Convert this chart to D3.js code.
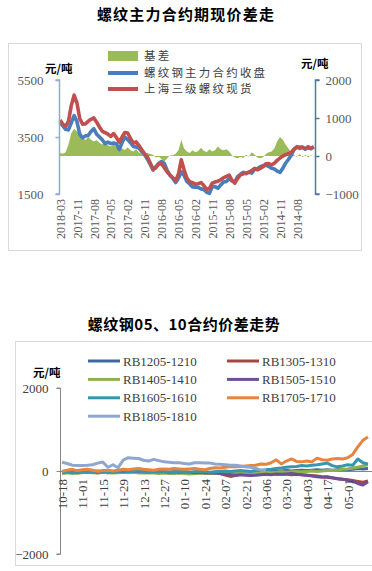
<!DOCTYPE html>
<html><head><meta charset="utf-8">
<script src="https://cdn.jsdelivr.net/npm/d3@7/dist/d3.min.js"></script>
<style>
body{margin:0;background:#fff;}
svg{display:block;}
</style></head>
<body>
<svg id="c" width="372" height="571"></svg>
<script>
// ---------- Chart 1 data ----------
const title1 = "螺纹主力合约期现价差走";
const dateLabels1 = ["2018-03","2017-11","2017-08","2017-05","2017-02","2016-11","2016-08","2016-05","2016-02","2015-11","2015-08","2015-05","2015-02","2014-11","2014-08"];
const legend1 = ["基差","螺纹钢主力合约收盘","上海三级螺纹现货"];
const leftTicks1 = [1500,3500,5500];
const rightTicks1 = [-1000,0,1000,2000];
const spotPrice = [4100,3950,3870,4050,4600,4970,4700,4150,3950,3960,4050,4120,4170,4020,3850,3700,3650,3600,3520,3620,
 3480,3320,3500,3660,3640,3450,3290,3330,3200,3050,2920,2800,2590,2370,2420,2550,2560,2420,2270,2170,
 2070,1960,2200,2700,2350,2060,1930,1900,1840,1860,1900,1800,1660,1700,1880,1920,1950,2000,2070,2120,
 2160,1980,1880,2050,2170,2210,2240,2260,2330,2400,2350,2400,2460,2560,2570,2520,2580,2680,2760,2830,
 2880,2910,2960,3080,3140,3150,3120,3100,3120,3110,3150];
const futuresClose = [4020,3890,3770,3750,4000,4250,4050,3600,3470,3540,3550,3690,3790,3600,3500,3400,3270,3320,3270,3290,
 3260,3060,3300,3500,3410,3300,3170,3150,3110,2990,2880,2720,2540,2340,2460,2570,2640,2570,2330,2160,
 2050,1900,2050,2280,2150,1940,1850,1750,1740,1730,1680,1660,1560,1520,1760,1760,1700,1820,1920,1940,
 2040,1960,1920,2110,2190,2260,2210,2270,2230,2360,2390,2460,2490,2510,2470,2400,2380,2300,2260,2400,
 2580,2710,2860,3060,3160,3100,3150,3070,3160,3090,3160];
const basis = [80,60,100,300,600,720,650,550,480,420,500,430,380,420,350,300,380,280,250,330,
 220,260,200,160,230,150,120,180,90,60,40,80,50,30,-40,-20,-80,-150,-60,10,
 20,60,150,420,200,120,80,150,100,130,220,140,100,180,120,160,250,180,150,180,
 120,20,-40,-60,-20,-50,30,-10,100,40,-40,-60,-30,50,100,120,200,380,500,430,
 300,200,100,20,-20,50,-30,30,-40,20,-10];

// ---------- Chart 2 data ----------
const title2 = "螺纹钢05、10合约价差走势";
const dateLabels2 = ["10-18","11-01","11-15","11-29","12-13","12-27","01-10","01-24","02-07","02-21","03-06","03-20","04-03","04-17","05-01"];
const seriesNames2 = ["RB1205-1210","RB1305-1310","RB1405-1410","RB1505-1510","RB1605-1610","RB1705-1710","RB1805-1810"];
const yTicks2 = [-2000,0,2000];
const rb1205 = [-40,-30,-50,-40,-30,-20,-30,-40,-30,-20,-30,-20,-10,-20,-30,-20,-10,-20,-30,-20,-30,-40,-30,-20,-30,-40,-30,-20,-30,-40,-30,-20,-30,-40,-30,-20,-30,-20,-10,-20,-10,0,-10,0,10,0,10,20,10,20,30,20,30,20,30,40,30,40,60,50,60];
const rb1305 = [-30,-20,-30,-40,-30,-20,-30,-20,-30,-40,-30,-20,-30,-20,-30,-40,-30,-20,-30,-20,-30,-40,-30,-40,-30,-40,-50,-40,-50,-60,-50,-60,-100,-130,-110,-80,-70,-80,-60,-70,-80,-60,-70,-80,-70,-90,-80,-90,-100,-110,-120,-140,-150,-170,-190,-200,-210,-230,-250,-270,-240];
const rb1405 = [-60,-50,-40,-50,-40,-30,-40,-50,-30,-40,-50,-40,-30,-40,-30,-40,-50,-40,-50,-60,-50,-60,-60,-50,-60,-70,-60,-60,-50,-60,-50,-40,-50,-60,-50,-40,-50,-40,-50,-40,-30,-40,-30,-20,-30,-20,-10,-20,-10,0,-10,0,10,10,20,40,50,70,90,120,150];
const rb1505 = [-20,-10,-20,-30,-20,-10,-20,-30,-20,-10,-20,-10,-20,-10,0,-10,-20,-10,-20,-10,-20,-30,-20,-30,-20,-30,-40,-30,-40,-50,-40,-60,-80,-90,-100,-90,-100,-110,-100,-90,-80,-90,-70,-80,-70,-60,-80,-90,-100,-120,-140,-150,-140,-160,-180,-200,-220,-250,-300,-340,-260];
const rb1605 = [-30,-20,-40,-20,-10,-30,-20,0,-10,-20,-30,-10,0,-20,-10,0,-20,-30,-10,-20,-10,-30,-20,-10,-20,-30,-20,-10,-20,-30,-20,-10,0,-10,0,10,0,-10,10,20,30,40,60,70,90,100,110,130,120,140,150,170,190,130,100,120,150,140,290,200,170];
const rb1705 = [-10,20,40,10,30,40,20,-10,10,20,0,20,40,30,50,60,40,30,20,40,50,40,60,50,40,50,60,40,30,60,80,70,90,110,100,110,120,130,140,170,160,200,270,170,240,290,230,220,240,220,310,270,260,290,300,290,320,400,580,740,820];
const rb1805 = [210,180,140,130,135,140,150,190,215,90,150,80,260,320,310,300,260,240,280,250,220,210,200,200,180,170,200,200,190,190,170,160,150,140,140,120,100,90,60,20,10];

const svg = d3.select("#c");
const serif = "'Liberation Serif','Times New Roman',serif";
const cjk = "'Noto Sans CJK SC','Noto Sans',sans-serif";
const fmt = d3.format("d");

// ================= Chart 1 =================
svg.append("text").attr("x",186).attr("y",20).attr("text-anchor","middle")
  .attr("font-family",cjk).attr("font-weight",700).attr("font-size",15).attr("letter-spacing",1.2)
  .attr("fill","#000").text(title1);
svg.append("rect").attr("x",8.5).attr("y",43.5).attr("width",353).attr("height",207)
  .attr("fill","none").attr("stroke","#d9d9d9");

const x1 = d3.scaleLinear().domain([0,90]).range([60,313.8]);
const yL = d3.scaleLinear().domain([1500,5500]).range([194,80]);
const yR = d3.scaleLinear().domain([-1000,2000]).range([194,80]);
const idx1 = d3.range(spotPrice.length);

svg.append("path").datum(idx1)
  .attr("d", d3.area().x(i=>x1(i)).y0(yR(0)).y1(i=>yR(basis[i])))
  .attr("fill","#9bbb59");
svg.append("path").datum(idx1)
  .attr("d", d3.line().x(i=>x1(i)).y(i=>yL(futuresClose[i])))
  .attr("fill","none").attr("stroke","#4a7ebb").attr("stroke-width",3.6).attr("stroke-linejoin","round");
svg.append("path").datum(idx1)
  .attr("d", d3.line().x(i=>x1(i)).y(i=>yL(spotPrice[i])))
  .attr("fill","none").attr("stroke","#c0504d").attr("stroke-width",3.6).attr("stroke-linejoin","round");

const axL = svg.append("g").attr("transform","translate(59.5,0)")
  .call(d3.axisLeft(yL).tickValues(leftTicks1).tickFormat(fmt).tickSize(4).tickPadding(12));
axL.select(".domain").attr("stroke","#8eaadb").attr("stroke-width",1.5).attr("d","M-4,"+yL(5500)+"H0V"+yL(1500)+"H-4");
axL.selectAll("line").attr("stroke","#8eaadb").attr("stroke-width",1.5);
axL.selectAll("text").attr("font-family",serif).attr("font-size",13).attr("fill","#595959");
const axR = svg.append("g").attr("transform","translate(315.5,0)")
  .call(d3.axisRight(yR).tickValues(rightTicks1).tickFormat(fmt).tickSize(4).tickPadding(6));
axR.select(".domain").attr("stroke","#4f76a8").attr("stroke-width",1.5).attr("d","M4,"+yR(2000)+"H0V"+yR(-1000)+"H4");
axR.selectAll("line").attr("stroke","#4f76a8").attr("stroke-width",1.5);
axR.selectAll("text").attr("font-family",serif).attr("font-size",13).attr("fill","#595959");

const labIdx1 = dateLabels1.map((d,i)=>i*6);
const axB = svg.append("g").attr("transform","translate(0,197)")
  .call(d3.axisBottom(x1).tickValues(labIdx1).tickFormat((d,i)=>dateLabels1[i]).tickSize(0));
axB.select(".domain").remove();
axB.selectAll("text").attr("font-family",serif).attr("font-size",12).attr("fill","#595959")
  .attr("transform","rotate(-90)").attr("text-anchor","end").attr("x",-2).attr("y",0).attr("dy","0.35em");

svg.append("text").attr("x",45).attr("y",73).attr("font-family",cjk).attr("font-weight",700).attr("font-size",11.5).attr("fill","#000").text("元/吨");
svg.append("text").attr("x",301).attr("y",68).attr("font-family",cjk).attr("font-weight",700).attr("font-size",11.5).attr("fill","#000").text("元/吨");

const lg1 = [{t:"area",c:"#9bbb59",y:56},{t:"line",c:"#4a7ebb",y:73},{t:"line",c:"#c0504d",y:89}];
lg1.forEach((d,i)=>{
  if(d.t==="area") svg.append("rect").attr("x",108).attr("y",d.y-5).attr("width",30).attr("height",10).attr("fill",d.c);
  else svg.append("line").attr("x1",108).attr("x2",138).attr("y1",d.y).attr("y2",d.y).attr("stroke",d.c).attr("stroke-width",4);
  svg.append("text").attr("x",144).attr("y",d.y).attr("dy","0.36em").attr("font-family",cjk).attr("font-size",11.5)
    .attr("letter-spacing",2.2).attr("fill","#404040").text(legend1[i]);
});

// ================= Chart 2 =================
svg.append("text").attr("x",184).attr("y",330).attr("text-anchor","middle")
  .attr("font-family",cjk).attr("font-weight",700).attr("font-size",15).attr("letter-spacing",0.5)
  .attr("fill","#000").text(title2);
svg.append("rect").attr("x",15.5).attr("y",341.5).attr("width",360).attr("height",224)
  .attr("fill","none").attr("stroke","#d9d9d9");

const x2 = d3.scaleLinear().domain([0,60]).range([62,368]);
const y2 = d3.scaleLinear().domain([-2000,2000]).range([554,388]);
const colors2 = ["#41679a","#a94440","#8cb44e","#6e4f96","#3796ae","#e8843e","#8ea7ce"];
const data2 = [rb1205,rb1305,rb1405,rb1505,rb1605,rb1705,rb1805];

svg.append("line").attr("x1",60).attr("x2",372).attr("y1",y2(0)+0.5).attr("y2",y2(0)+0.5).attr("stroke","#868686");
const ax2L = svg.append("g").attr("transform","translate(60.5,0)")
  .call(d3.axisLeft(y2).tickValues(yTicks2).tickFormat(fmt).tickSize(4).tickPadding(8));
ax2L.select(".domain").attr("stroke","#868686").attr("d","M-4,"+y2(2000)+"H0V"+y2(-2000)+"H-4");
ax2L.selectAll("line").attr("stroke","#868686");
ax2L.selectAll("text").attr("font-family",serif).attr("font-size",13).attr("fill","#404040");

data2.forEach((s,k)=>{
  svg.append("path").datum(d3.range(s.length))
    .attr("d", d3.line().x(i=>x2(i)).y(i=>y2(s[i])))
    .attr("fill","none").attr("stroke",colors2[k]).attr("stroke-width",3).attr("stroke-linejoin","round");
});

const labIdx2 = dateLabels2.map((d,i)=>i*4);
const ax2B = svg.append("g").attr("transform","translate(0,"+(y2(0)+6)+")")
  .call(d3.axisBottom(x2).tickValues(labIdx2).tickFormat((d,i)=>dateLabels2[i]).tickSize(0));
ax2B.select(".domain").remove();
ax2B.selectAll("text").attr("font-family",serif).attr("font-size",13).attr("fill","#404040")
  .attr("transform","rotate(-90)").attr("text-anchor","end").attr("x",-2).attr("y",0).attr("dy","0.35em");

svg.append("text").attr("x",33).attr("y",377).attr("font-family",cjk).attr("font-weight",700).attr("font-size",11.5).attr("fill","#000").text("元/吨");

seriesNames2.forEach((n,k)=>{
  const col = k%2, row = Math.floor(k/2);
  const lx = col===0 ? 88 : 227;
  const ly = 361 + row*18.4;
  svg.append("line").attr("x1",lx).attr("x2",lx+32).attr("y1",ly).attr("y2",ly).attr("stroke",colors2[k]).attr("stroke-width",3);
  svg.append("text").attr("x",lx+35).attr("y",ly).attr("dy","0.35em").attr("font-family",serif).attr("font-size",13)
    .attr("fill","#404040").text(n);
});
</script>
</body></html>
